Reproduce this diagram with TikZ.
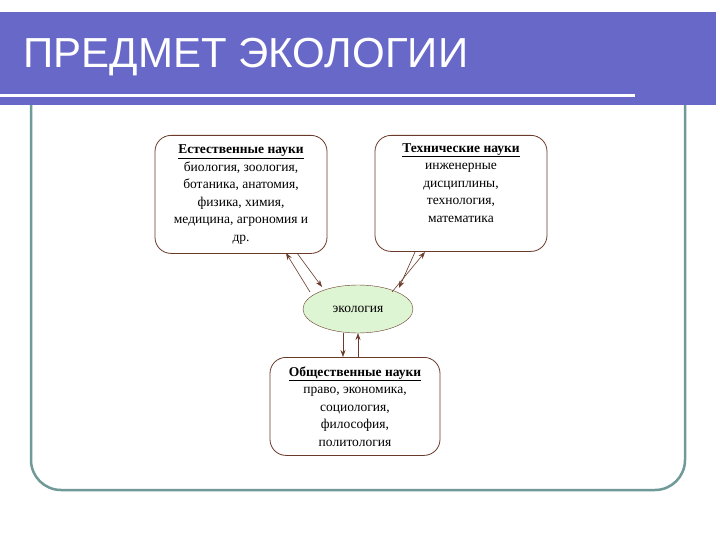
\documentclass[tikz,border=0pt]{standalone}
\usepackage{fontspec}
\setmainfont{Liberation Serif}
\newfontfamily\titlefont{Liberation Sans}
\usetikzlibrary{arrows.meta,shapes.geometric}
\definecolor{band}{HTML}{6868C8}
\definecolor{frame}{HTML}{6F9A98}
\definecolor{arr}{HTML}{6A3A2A}
\definecolor{eco}{HTML}{DDF5D2}
\tikzset{
 box/.style={draw=arr,line width=0.8pt,rounded corners=16pt,minimum width=172pt,align=center,font=\fontsize{13.5}{17.5}\selectfont,inner sep=2pt},
 link/.style={draw=arr,line width=0.6pt,-{Stealth[length=7pt,width=5pt]}}
}
\begin{document}
\begin{tikzpicture}[x=1pt,y=-1pt]
\useasboundingbox (0,0) rectangle (720,540);
\fill[white] (0,0) rectangle (720,540);
\draw[frame,line width=2.5pt,rounded corners=30pt] (31,100) -- (31,490) -- (685,490) -- (685,100);
\fill[band] (0,12) rectangle (716,105);
\fill[white] (0,94) rectangle (635,97.5);
\node[anchor=west,text=white,font=\titlefont\fontsize{42}{46}\selectfont] (title) at (20,57) {ПРЕДМЕТ ЭКОЛОГИИ};
\node[box,minimum height=118pt,anchor=north] (nat) at (241,135) {\textbf{\underline{Естественные науки}}\\биология, зоология,\\ботаника, анатомия,\\физика, химия,\\медицина, агрономия и\\др.};
\node[box,minimum height=116pt,anchor=north] (tech) at (461,135) {};
\node[align=center,anchor=north,font=\fontsize{13.5}{17.5}\selectfont] (techt) at (461,140) {\textbf{\underline{Технические науки}}\\инженерные\\дисциплины,\\технология,\\математика};
\node[box,minimum height=98pt,minimum width=170pt,anchor=north] (soc) at (355,357) {\textbf{\underline{Общественные науки}}\\право, экономика,\\социология,\\философия,\\политология};
\node[ellipse,draw=arr,fill=eco,minimum width=110pt,minimum height=48pt,font=\fontsize{13.5}{15}\selectfont] (eco) at (358,309) {экология};
\coordinate (a1) at (310,292); \coordinate (b1) at (286,253);
\coordinate (a2) at (322,287); \coordinate (b2) at (297,253);
\draw[link] (a1) -- (b1);
\draw[link] (b2) -- (a2);
\coordinate (c1) at (399,288); \coordinate (d1) at (425,252);
\coordinate (c2) at (392,292); \coordinate (d2) at (415,252);
\draw[link] (c2) -- (d1);
\draw[link] (d2) -- (c1);
\coordinate (e1) at (343,333); \coordinate (f1) at (343,357);
\coordinate (e2) at (358,333); \coordinate (f2) at (358,357);
\draw[link] (e1) -- (f1);
\draw[link] (f2) -- (e2);
\end{tikzpicture}
\end{document}
